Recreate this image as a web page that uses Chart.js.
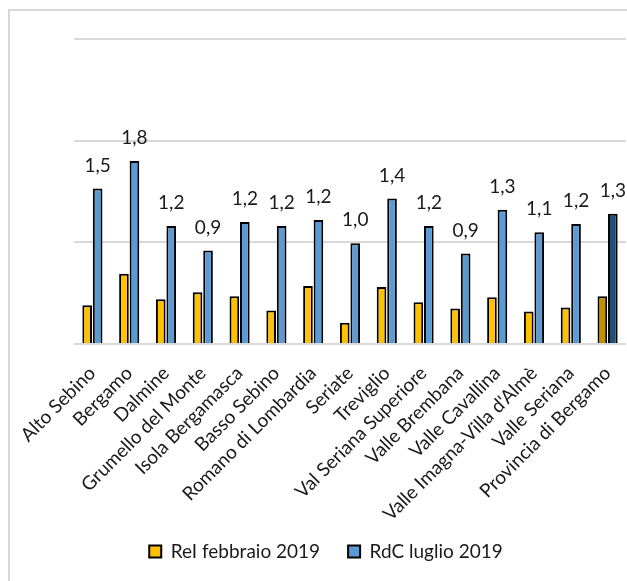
<!DOCTYPE html>
<html>
<head>
<meta charset="utf-8">
<script src="https://cdn.jsdelivr.net/npm/chart.js@4.4.1/dist/chart.umd.min.js"></script>
<style>
  html, body { margin: 0; padding: 0; background: #fff; overflow: hidden; width: 627px; height: 581px; }
  #frame { position: absolute; left: 8px; top: 9px; width: 640px; height: 590px; border: 2px solid #d9d9d9; }
  #frame canvas { display: block; }
</style>
</head>
<body>
<div id="frame"><canvas id="chart" width="640" height="590"></canvas></div>
<script>
// --- DATA ---
const categories = [
  'Alto Sebino', 'Bergamo', 'Dalmine', 'Grumello del Monte', 'Isola Bergamasca',
  'Basso Sebino', 'Romano di Lombardia', 'Seriate', 'Treviglio', 'Val Seriana Superiore',
  'Valle Brembana', 'Valle Cavallina', "Valle Imagna-Villa d'Almè", 'Valle Seriana', 'Provincia di Bergamo'
];
const reiFeb2019 = [0.38, 0.69, 0.44, 0.51, 0.47, 0.33, 0.57, 0.21, 0.56, 0.41, 0.35, 0.46, 0.32, 0.36, 0.47];
const rdcLug2019 = [1.53, 1.80, 1.16, 0.92, 1.20, 1.16, 1.22, 0.99, 1.43, 1.16, 0.89, 1.32, 1.10, 1.18, 1.28];
const seriesNames = ['ReI febbraio 2019', 'RdC luglio 2019'];
const yTicks = [0, 1, 2, 3];

const FONT = 'Lato, "Open Sans", sans-serif';
const lastIdx = categories.length - 1;

// last category (province total) is drawn darker
const shade = (normal, dark) => (ctx) => (ctx.dataIndex === lastIdx ? dark : normal);

// data labels above the RdC bars, Italian decimal comma
const valueLabels = {
  id: 'valueLabels',
  afterDatasetsDraw(chart) {
    const { ctx } = chart;
    const meta = chart.getDatasetMeta(1);
    ctx.save();
    ctx.font = '19px ' + FONT;
    ctx.fillStyle = '#1a1a1a';
    ctx.textAlign = 'center';
    ctx.textBaseline = 'middle';
    meta.data.forEach((bar, i) => {
      const txt = rdcLug2019[i].toFixed(1).replace('.', ',');
      ctx.fillText(txt, bar.x, bar.y - 23);
    });
    ctx.restore();
  }
};

new Chart(document.getElementById('chart'), {
  type: 'bar',
  data: {
    labels: categories,
    datasets: [
      {
        label: seriesNames[0],
        data: reiFeb2019,
        backgroundColor: shade('#FFC000', '#BF9000'),
        borderColor: '#000',
        borderWidth: 2
      },
      {
        label: seriesNames[1],
        data: rdcLug2019,
        backgroundColor: shade('#5B9BD5', '#1F4E79'),
        borderColor: '#000',
        borderWidth: 2
      }
    ]
  },
  options: {
    responsive: false,
    animation: false,
    categoryPercentage: 0.57,
    barPercentage: 0.92,
    layout: { padding: { left: 16, right: 24, top: 28, bottom: 30 } },
    scales: {
      x: {
        grid: { display: false, drawTicks: false },
        border: { display: false },
        ticks: {
          autoSkip: false,
          minRotation: 45,
          maxRotation: 45,
          padding: 18,
          color: '#1a1a1a',
          font: { family: FONT, size: 19 }
        },
        afterFit: (s) => {
          s.height = 170;
          // rotated labels fit in the frame; don't let them push the plot in
          s.paddingLeft = 0;
          s.paddingRight = 0;
          // labels hang below the axis box into the legend's empty band
          s._computeLabelArea = () => undefined;
        }
      },
      y: {
        min: yTicks[0],
        max: yTicks[yTicks.length - 1],
        ticks: { display: false, stepSize: 1 },
        afterBuildTicks: (s) => { s.ticks = yTicks.map(v => ({ value: v })); },
        grid: { color: '#d9d9d9', lineWidth: 2, drawTicks: false },
        border: { display: false },
        afterFit: (s) => { s.width = 48; }
      }
    },
    plugins: {
      legend: {
        position: 'bottom',
        labels: {
          boxWidth: 12,
          boxHeight: 12,
          padding: 28,
          color: '#1a1a1a',
          font: { family: FONT, size: 19 }
        }
      },
      tooltip: { enabled: false }
    }
  },
  plugins: [valueLabels]
});
</script>
</body>
</html>
